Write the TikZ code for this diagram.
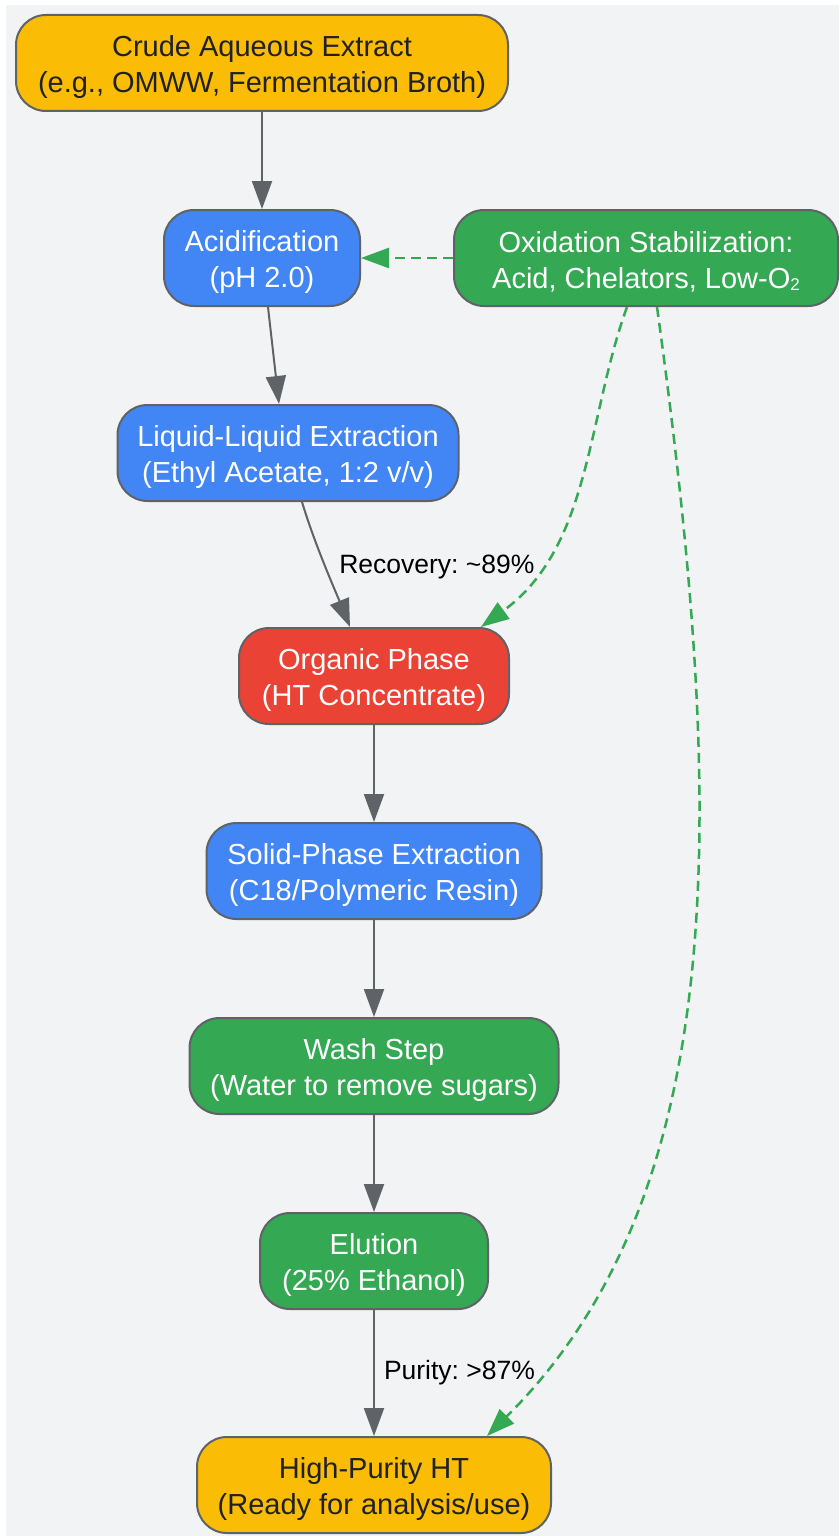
\documentclass[tikz,border=0pt]{standalone}
\usepackage{fontspec}
\setmainfont{Liberation Sans}
\usetikzlibrary{arrows.meta}
\frenchspacing

\definecolor{canvas}{HTML}{F1F3F4}
\definecolor{rim}{HTML}{5F6368}
\definecolor{ink}{HTML}{202124}
\definecolor{gyellow}{HTML}{FBBC05}
\definecolor{gblue}{HTML}{4285F4}
\definecolor{ggreen}{HTML}{34A853}
\definecolor{gred}{HTML}{EA4335}

% extra room above the first line, so the two lines sit a little lower
\newcommand{\topgap}{\rule{0pt}{29pt}}
% small subscript digit
\newcommand{\lowtwo}{\raisebox{-1.5pt}{\fontsize{17}{17}\selectfont 2}}

\begin{document}
\begin{tikzpicture}[line cap=round,line join=round,x=1pt,y=-1pt,
    box/.style={draw=rim, line width=2pt, rounded corners=30pt, minimum height=96pt,
        inner sep=0pt, align=center, font=\fontsize{29}{36}\selectfont},
    yellowbox/.style={box, fill=gyellow, text=ink},
    bluebox/.style={box, fill=gblue, text=white},
    greenbox/.style={box, fill=ggreen, text=white},
    redbox/.style={box, fill=gred, text=white},
    flow/.style={draw=rim, line width=2pt, -{Triangle[length=28pt,width=20pt]}},
    stab/.style={draw=ggreen, line width=2.5pt, line cap=butt, dash pattern=on 10pt off 6pt,
        -{Triangle[length=28pt,width=20pt,fill=ggreen]}},
    lbl/.style={inner sep=0pt, text=black, font=\fontsize{26.5}{32}\selectfont}]

    \useasboundingbox (0,0) rectangle (839,1536);
    \fill[canvas] (6,5) rectangle (839,1536);

    \draw (262,63) node[yellowbox, minimum width=492pt] (crude) {\topgap Crude Aqueous Extract\\(e.g., OMWW, Fermentation Broth)};
    \draw (262,258) node[bluebox, minimum width=196pt] (acid) {\topgap Acidification\\(pH 2.0)};
    \draw (646,258) node[greenbox, minimum width=384pt] (oxstab) {\topgap Oxidation Stabilization:\\Acid, Chelators, Low-O\lowtwo};
    \draw (288,453) node[bluebox, minimum width=341pt] (lle) {\topgap Liquid-Liquid Extraction\\(Ethyl Acetate, 1:2 v/v)};
    \draw (374,676) node[redbox, minimum width=270pt] (organic) {\topgap Organic Phase\\(HT Concentrate)};
    \draw (374,871) node[bluebox, minimum width=335pt] (spe) {\topgap Solid-Phase Extraction\\(C18/Polymeric Resin)};
    \draw (374,1066) node[greenbox, minimum width=369pt] (wash) {\topgap Wash Step\\(Water to remove sugars)};
    \draw (374,1261) node[greenbox, minimum width=228pt] (elution) {\topgap Elution\\(25\% Ethanol)};
    \draw (374,1485) node[yellowbox, minimum width=354pt] (pure) {\topgap High-Purity HT\\(Ready for analysis/use)};

    % Main chain
    \draw[flow] (crude) -- (acid);
    \draw[flow] ([xshift=6pt]acid.south) -- ([xshift=-9pt]lle.north);
    \draw[flow] ([xshift=14pt]lle.south) .. controls (315,545) and (335,590) .. ([xshift=-24pt]organic.north)
        node[lbl, pos=0.5, anchor=west, xshift=13pt] {Recovery: \textasciitilde89\%};
    \draw[flow] (organic) -- (spe);
    \draw[flow] (spe) -- (wash);
    \draw[flow] (wash) -- (elution);
    \draw[flow] (elution) -- (pure)
        node[lbl, pos=0.5, anchor=west, xshift=9pt] {Purity: >87\%};
    % Stabilization links
    \draw[stab] (oxstab.west) -- (acid.east);
    \draw[stab] ([xshift=-19pt]oxstab.south) .. controls (587,417) and (591,547) .. ([xshift=107pt]organic.north);
    \draw[stab] ([xshift=11pt]oxstab.south) .. controls (725,800) and (735,1190) .. ([xshift=113pt]pure.north);
\end{tikzpicture}
\end{document}
